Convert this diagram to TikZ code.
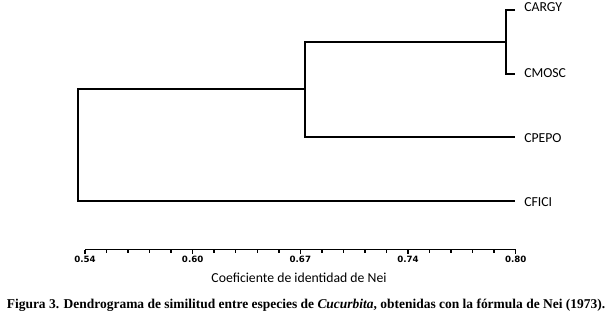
\documentclass[tikz,border=0pt]{standalone}
\usepackage{fontspec}
\setmainfont{Liberation Serif}
\newfontfamily\leaffont{Carlito}
\newfontfamily\tickfont{DejaVu Sans}
\usepackage{tikz}
\usetikzlibrary{positioning,calc}
\tikzstyle{leaf} = [anchor=west, inner sep=0pt, font=\leaffont\fontsize{10.3}{12}\selectfont]
\tikzstyle{branch} = [line width=1.5pt]
\tikzstyle{axis} = [line width=1.1pt]
\tikzstyle{ticklabel} = [inner sep=0pt, font=\tickfont\bfseries\fontsize{6.5}{8}\selectfont]

\begin{document}
\begin{tikzpicture}[x=0.75pt, y=-0.75pt]
\useasboundingbox (0,0) rectangle (611,318);
% leaves
\node[leaf] (cargy) at (524,7.5) {CARGY};
\node[leaf] (cmosc) at (524,73) {CMOSC};
\node[leaf] (cpepo) at (524,138) {CPEPO};
\node[leaf] (cfici) at (524,202.5) {CFICI};
\coordinate (tA) at (515,9.5);
\coordinate (tB) at (515,73.5);
\coordinate (tC) at (515,137);
\coordinate (tD) at (515,201);
% joints
\coordinate (jA) at (506,42);
\coordinate (jB) at (305,89);
\coordinate (jC) at (78,145);
\draw[branch] (tA) -| (jA) |- (tB);
\draw[branch] (jA) -| (jB) |- (tC);
\draw[branch] (jB) -| (jC) |- (tD);
% axis
\coordinate (a0) at (85,249.5);
\coordinate (a1) at (515.7,249.5);
\draw[axis] (a0) -- (a1);
\foreach \i in {0,...,20} {
  \draw[axis] ($(a0)!\i/20!(a1)$) -- ++(0,3);
}
\foreach \v [count=\k from 0] in {0.54,0.60,0.67,0.74,0.80} {
  \draw[axis] ($(a0)!\k/4!(a1)$) -- ++(0,4.5);
  \node[ticklabel] (t\k) at ($(a0)!\k/4!(a1)+(0,10)$) {\v};
}
\node[font=\leaffont\fontsize{10.3}{12}\selectfont, inner sep=0pt] (title) at (299,278) {Coeficiente de identidad de Nei};
\node[font=\bfseries\fontsize{10.1}{12}\selectfont, inner sep=0pt] (caption) at (306,305)
  {Figura 3. Dendrograma de similitud entre especies de \textit{Cucurbita}, obtenidas con la fórmula de Nei (1973).};
\end{tikzpicture}
\end{document}
